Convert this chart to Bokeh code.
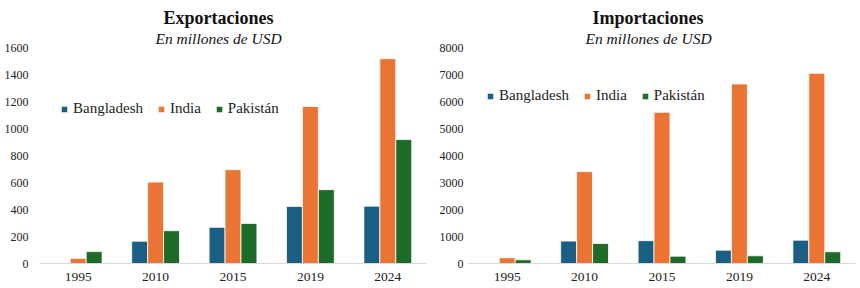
from bokeh.plotting import figure
from bokeh.models import FactorRange, Range1d, Title, Legend, LegendItem, ColumnDataSource
from bokeh.transform import dodge
from bokeh.layouts import row
from bokeh.embed import file_html
from bokeh.resources import INLINE

years = ["1995", "2010", "2015", "2019", "2024"]
series = ["Bangladesh", "India", "Pakistán"]
colors = ["#1b5e83", "#ea7434", "#1e6b2a"]

exp_bangladesh = [3, 165, 268, 423, 425]
exp_india = [38, 603, 695, 1163, 1517]
exp_pakistan = [88, 243, 297, 547, 918]

imp_bangladesh = [20, 830, 845, 495, 865]
imp_india = [212, 3400, 5600, 6650, 7045]
imp_pakistan = [140, 742, 272, 286, 435]

exp_ticks = [0, 200, 400, 600, 800, 1000, 1200, 1400, 1600]
imp_ticks = [0, 1000, 2000, 3000, 4000, 5000, 6000, 7000, 8000]

SERIF = "Liberation Serif"


def make_chart(title, subtitle, vals, ymax, ticks, border_left, border_right,
               ystandoff, title_offset, sub_offset, legend_loc):
    src = ColumnDataSource(dict(year=years, a=vals[0], b=vals[1], c=vals[2]))
    p = figure(x_range=FactorRange(*years), y_range=Range1d(0, ymax),
               width=430, height=288, output_backend="svg", toolbar_location=None,
               title=None, min_border_left=border_left, min_border_right=border_right,
               min_border_top=3, min_border_bottom=25)
    p.outline_line_color = None
    p.grid.grid_line_color = None
    p.background_fill_color = "white"
    rs = []
    for off, col, c in zip([-0.206, 0.0, 0.206], ["a", "b", "c"], colors):
        r = p.vbar(x=dodge("year", off, range=p.x_range), top=col, width=0.206,
                   source=src, fill_color=c, line_color="white", line_width=0.8)
        rs.append(r)
    p.add_layout(Title(text=subtitle, text_font=SERIF, text_font_style="italic",
                       text_font_size="15.5px", align="left", offset=sub_offset,
                       text_color="#111111", standoff=1), "above")
    p.add_layout(Title(text=title, text_font=SERIF, text_font_style="bold",
                       text_font_size="18px", align="left", offset=title_offset,
                       text_color="#111111", standoff=0), "above")
    p.add_layout(Title(text=" ", text_font=SERIF, text_font_size="2.5px",
                       standoff=0), "above")
    yax = p.yaxis[0]
    yax.ticker = ticks
    yax.axis_line_color = None
    yax.major_tick_line_color = None
    yax.minor_tick_line_color = None
    yax.major_tick_out = 0
    yax.major_tick_in = 0
    yax.minor_tick_out = 0
    yax.major_label_text_font = SERIF
    yax.major_label_text_font_size = "12px"
    yax.major_label_text_color = "#222222"
    yax.major_label_standoff = ystandoff
    xax = p.xaxis[0]
    xax.axis_line_color = "#d9d9d9"
    xax.axis_line_width = 1
    xax.major_tick_line_color = None
    xax.minor_tick_line_color = None
    xax.major_tick_out = 0
    xax.major_tick_in = 0
    xax.minor_tick_out = 0
    xax.major_label_text_font = SERIF
    xax.major_label_text_font_size = "13.5px"
    xax.major_label_text_color = "#222222"
    xax.major_label_standoff = 9
    p.x_range.range_padding = 0
    p.x_range.group_padding = 0
    legend = Legend(items=[LegendItem(label=s, renderers=[r]) for s, r in zip(series, rs)],
                    orientation="horizontal", location=legend_loc,
                    label_text_font=SERIF, label_text_font_size="15px",
                    label_text_color="#222222",
                    glyph_width=8, glyph_height=8, label_standoff=5, spacing=14,
                    padding=0, margin=0, border_line_color=None,
                    background_fill_alpha=0, label_height=16)
    p.add_layout(legend, "center")
    return p


p1 = make_chart("Exportaciones", "En millones de USD",
                [exp_bangladesh, exp_india, exp_pakistan], 1600, exp_ticks,
                39, 4, 11, 124, 116, (21, 146))
p2 = make_chart("Importaciones", "En millones de USD",
                [imp_bangladesh, imp_india, imp_pakistan], 8000, imp_ticks,
                38, 5, 5, 124, 117, (18, 159))

layout = row(p1, p2, spacing=0)
open("out.html", "w").write(file_html(layout, INLINE))
